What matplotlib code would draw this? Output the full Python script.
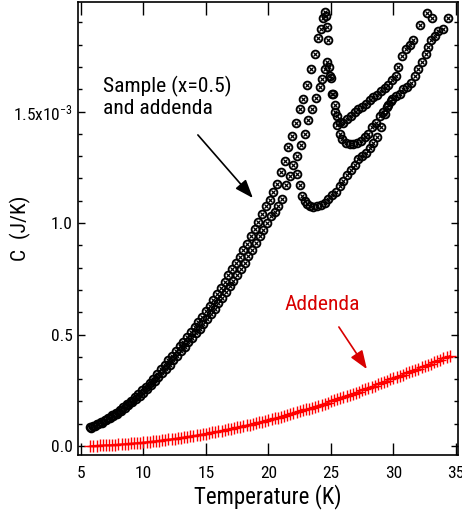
import matplotlib
matplotlib.use("Agg")
import matplotlib.pyplot as plt
from matplotlib import font_manager
from matplotlib.font_manager import FontProperties
from matplotlib.textpath import TextPath
import numpy as np

# ---- Data (C in units of 1e-3 J/K) ----
# Sample run A (rises to sharp peak ~24.5 K)
runA_T = [5.7, 6.0, 6.3, 6.6, 6.9, 7.2, 7.5, 7.8, 8.1, 8.4, 8.7, 9.0, 9.3, 9.6, 9.9,
          10.2, 10.5, 10.8, 11.1, 11.4, 11.7, 12.0, 12.3, 12.6, 12.9, 13.2, 13.5, 13.8,
          14.1, 14.4, 14.7, 15.0, 15.3, 15.6, 15.9, 16.2, 16.5, 16.8, 17.1, 17.4, 17.7,
          18.0, 18.3, 18.6, 18.9, 19.2, 19.5, 19.8, 20.1, 20.4, 20.7, 21.0, 21.3, 21.6,
          21.9, 22.2, 22.5, 22.8, 23.1, 23.4, 23.7, 24.0, 24.2, 24.4, 24.5, 24.6, 24.7, 24.8]
runA_C = [0.085, 0.092, 0.100, 0.108, 0.118, 0.128, 0.140, 0.150, 0.163, 0.175, 0.190,
          0.203, 0.218, 0.232, 0.250, 0.266, 0.282, 0.300, 0.322, 0.345, 0.362, 0.385,
          0.405, 0.425, 0.448, 0.468, 0.490, 0.512, 0.535, 0.555, 0.580, 0.605, 0.630,
          0.655, 0.680, 0.708, 0.735, 0.765, 0.792, 0.820, 0.848, 0.878, 0.908, 0.940,
          0.972, 1.005, 1.040, 1.075, 1.105, 1.140, 1.175, 1.230, 1.280, 1.340, 1.390,
          1.450, 1.510, 1.555, 1.620, 1.690, 1.760, 1.830, 1.870, 1.920, 1.945, 1.930,
          1.880, 1.820]

# Sample run B (peak ~24.7 K, then upper branch to 34 K)
runB_T = [5.8, 6.1, 6.4, 6.7, 7.0, 7.3, 7.6, 7.9, 8.2, 8.5, 8.8, 9.1, 9.4, 9.7, 10.0,
          10.3, 10.6, 10.9, 11.2, 11.5, 11.8, 12.1, 12.4, 12.7, 13.0, 13.3, 13.6, 13.9,
          14.2, 14.5, 14.8, 15.1, 15.4, 15.7, 16.0, 16.3, 16.6, 16.9, 17.2, 17.5, 17.8,
          18.1, 18.4, 18.7, 19.0, 19.3, 19.6, 19.9, 20.2, 20.5, 20.8, 21.1, 21.4, 21.7,
          22.0, 22.3, 22.6, 22.9, 23.2, 23.5, 23.8, 24.1, 24.3, 24.5, 24.7, 24.85, 25.0,
          25.15, 25.3, 25.5, 25.7, 26.0, 26.3, 26.6, 26.9, 27.2, 27.5, 27.8, 28.1, 28.4,
          28.7, 29.0, 29.3, 29.6, 29.9, 30.2, 30.4, 30.7, 31.0, 31.3, 31.6, 32.1, 32.7,
          33.1, 34.4]
runB_C = [0.080, 0.088, 0.097, 0.105, 0.115, 0.125, 0.135, 0.146, 0.158, 0.170, 0.183,
          0.196, 0.210, 0.225, 0.240, 0.256, 0.272, 0.290, 0.308, 0.326, 0.345, 0.365,
          0.385, 0.405, 0.425, 0.445, 0.465, 0.485, 0.505, 0.525, 0.548, 0.570, 0.592,
          0.615, 0.640, 0.664, 0.690, 0.716, 0.742, 0.768, 0.795, 0.823, 0.852, 0.880,
          0.910, 0.940, 0.970, 1.000, 1.030, 1.050, 1.075, 1.110, 1.170, 1.210, 1.260,
          1.300, 1.350, 1.400, 1.460, 1.510, 1.560, 1.610, 1.645, 1.690, 1.720, 1.700,
          1.650, 1.580, 1.530, 1.480, 1.455, 1.450, 1.465, 1.480, 1.500, 1.510, 1.520,
          1.535, 1.550, 1.565, 1.575, 1.590, 1.605, 1.620, 1.640, 1.660, 1.700, 1.750,
          1.780, 1.800, 1.820, 1.890, 1.940, 1.920, 1.920]

# Sample run B2 (lower branch after the 24.7 K peak)
runB2_T = [24.9, 25.1, 25.3, 25.5, 25.7, 25.9, 26.2, 26.5, 26.8, 27.1, 27.4, 27.7,
           28.0, 28.3, 28.6, 28.9, 29.2, 29.5, 29.8]
runB2_C = [1.660, 1.580, 1.500, 1.440, 1.400, 1.375, 1.360, 1.355, 1.355, 1.360, 1.370,
           1.385, 1.400, 1.430, 1.450, 1.480, 1.500, 1.520, 1.545]

# Sample run C (starts at 22.3 K, dip near 23.5 K)
runC_T = [22.3, 22.5, 22.7, 22.9, 23.1, 23.3, 23.6, 23.9, 24.2, 24.5, 24.8, 25.1, 25.4,
          25.7, 26.0, 26.3, 26.6, 26.9, 27.2, 27.5, 27.8, 28.1, 28.4, 28.7, 29.0, 29.3,
          29.6, 29.9, 30.2, 30.5, 30.8, 31.1, 31.4, 31.7, 32.0, 32.3, 32.6, 32.8, 33.0,
          33.3, 33.6, 34.0]
runC_C = [1.220, 1.170, 1.120, 1.100, 1.085, 1.075, 1.070, 1.075, 1.080, 1.090, 1.110,
          1.125, 1.140, 1.165, 1.190, 1.215, 1.240, 1.260, 1.285, 1.300, 1.315, 1.335,
          1.360, 1.385, 1.430, 1.490, 1.530, 1.555, 1.570, 1.580, 1.600, 1.610, 1.630,
          1.660, 1.690, 1.720, 1.760, 1.790, 1.820, 1.840, 1.860, 1.870]

# Addenda
add_T = [5.75, 6.0, 6.25, 6.5, 6.75, 7.0, 7.25, 7.5, 7.75, 8.0, 8.25, 8.5, 8.75, 9.0,
         9.25, 9.5, 9.75, 10.0, 10.25, 10.5, 10.75, 11.0, 11.25, 11.5, 11.75, 12.0,
         12.25, 12.5, 12.75, 13.0, 13.25, 13.5, 13.75, 14.0, 14.25, 14.5, 14.75, 15.0,
         15.25, 15.5, 15.75, 16.0, 16.25, 16.5, 16.75, 17.0, 17.25, 17.5, 17.75, 18.0,
         18.25, 18.5, 18.75, 19.0, 19.25, 19.5, 19.75, 20.0, 20.25, 20.5, 20.75, 21.0,
         21.25, 21.5, 21.75, 22.0, 22.25, 22.5, 22.75, 23.0, 23.25, 23.5, 23.75, 24.0,
         24.25, 24.5, 24.75, 25.0, 25.25, 25.5, 25.75, 26.0, 26.25, 26.5, 26.75, 27.0,
         27.25, 27.5, 27.75, 28.0, 28.25, 28.5, 28.75, 29.0, 29.25, 29.5, 29.75, 30.0,
         30.25, 30.5, 30.75, 31.0, 31.25, 31.5, 31.75, 32.0, 32.25, 32.5, 32.75, 33.0,
         33.25, 33.5, 33.75, 34.0, 34.25, 34.5]
add_C = [0.0011, 0.0016, 0.0022, 0.0028, 0.0034, 0.0042, 0.0049, 0.0058, 0.0066, 0.0076,
         0.0085, 0.0096, 0.0107, 0.0118, 0.0130, 0.0143, 0.0156, 0.0170, 0.0184, 0.0199,
         0.0214, 0.0230, 0.0247, 0.0264, 0.0281, 0.0300, 0.0318, 0.0337, 0.0357, 0.0378,
         0.0398, 0.0420, 0.0442, 0.0464, 0.0487, 0.0511, 0.0535, 0.0560, 0.0585, 0.0611,
         0.0637, 0.0664, 0.0692, 0.0720, 0.0748, 0.0778, 0.0807, 0.0837, 0.0868, 0.0900,
         0.0932, 0.0964, 0.0997, 0.1030, 0.1064, 0.1099, 0.1134, 0.1170, 0.1206, 0.1243,
         0.1280, 0.1318, 0.1357, 0.1396, 0.1435, 0.1476, 0.1516, 0.1557, 0.1599, 0.1642,
         0.1684, 0.1728, 0.1772, 0.1816, 0.1861, 0.1907, 0.1953, 0.2000, 0.2047, 0.2095,
         0.2144, 0.2192, 0.2242, 0.2292, 0.2342, 0.2394, 0.2445, 0.2497, 0.2550, 0.2604,
         0.2657, 0.2712, 0.2767, 0.2822, 0.2878, 0.2935, 0.2992, 0.3050, 0.3100, 0.3152,
         0.3203, 0.3256, 0.3309, 0.3363, 0.3417, 0.3472, 0.3526, 0.3583, 0.3638, 0.3696,
         0.3753, 0.3811, 0.3869, 0.3928, 0.3988, 0.4048]

y_ticks = [0.0, 0.5, 1.0, 1.5]
y_tick_labels = ['0.0', '0.5', '1.0', '1.5x10$^{-3}$']
x_ticks = [5, 10, 15, 20, 25, 30, 35]
sample_text = 'Sample (x=0.5)\nand addenda'
addenda_text = 'Addenda'

# ---- Font: narrow Helvetica-like if available ----
avail = {f.name for f in font_manager.fontManager.ttflist}
chosen = 'Liberation Sans'
for cand in ['Liberation Sans Narrow', 'Arial Narrow', 'Nimbus Sans Narrow', 'Roboto Condensed',
             'Archivo Narrow', 'PT Sans Narrow', 'Open Sans Condensed', 'Fira Sans Condensed',
             'IBM Plex Sans Condensed', 'Sofia Sans Semi Condensed']:
    if cand in avail:
        chosen = cand
        break
plt.rcParams['font.family'] = [chosen, 'DejaVu Sans']
plt.rcParams['mathtext.default'] = 'regular'

# scale font sizes so that "Sample (x=0.5)" spans about the reference width
_tp = TextPath((0, 0), 'Sample (x=0.5)', size=15.5, prop=FontProperties(family=chosen))
_wpx = _tp.get_extents().width * 100 / 72
k = 126.0 / _wpx

# ---- Figure ----
W, H = 462, 518
fig = plt.figure(figsize=(W / 100, H / 100), dpi=100)
ax = fig.add_axes([78 / W, (H - 455) / H, 380 / W, 453 / H])

scale = 1e-3
for T, C in [(runA_T, runA_C), (runB_T, runB_C), (runB2_T, runB2_C), (runC_T, runC_C)]:
    Ts = np.array(T)
    Cs = np.array(C) * scale
    ax.plot(Ts, Cs, linestyle='none', marker='o', ms=5.6, mfc='none', mec='black', mew=1.35)
    ax.plot(Ts, Cs, linestyle='none', marker='x', ms=3.0, mec='black', mew=0.9)

ax.plot(np.array(add_T), np.array(add_C) * scale, color='#ff0000', lw=0.9,
        marker='+', ms=8.5, mew=1.0, mec='#ff0000')

ax.set_xlim(4.77, 35.17)
ax.set_ylim(-0.040e-3, 1.991e-3)

ax.set_xticks(x_ticks)
ax.set_xticklabels([str(v) for v in x_ticks])
ax.set_yticks([v * scale for v in y_ticks])
ax.set_yticklabels(y_tick_labels)
ax.set_yticks([v * 1e-4 for v in range(0, 20)], minor=True)

ax.tick_params(axis='x', which='major', direction='in', top=True, bottom=True,
               length=9, width=1.0, labelsize=12.5 * k, pad=8)
ax.tick_params(axis='y', which='major', direction='in', left=True, right=True,
               length=5, width=1.0, labelsize=12.5 * k, pad=4)
ax.tick_params(axis='y', which='minor', direction='in', left=True, right=True,
               length=3, width=1.0)
for s in ax.spines.values():
    s.set_linewidth(1.2)

ax.set_xlabel('Temperature (K)', fontsize=16.5 * k)
ax.xaxis.set_label_coords(0.5, -(484 - 455) / 453)
ax.set_ylabel('C  (J/K)', fontsize=15.5 * k)
ax.yaxis.set_label_coords(-(78 - 31) / 380, 0.5)

# Annotations
ax.text(6.76, 1.565e-3, sample_text, fontsize=15.5 * k, ha='left',
        va='center', linespacing=1.1, color='black')
ax.annotate('', xy=(18.76, 1.112e-3), xytext=(14.36, 1.395e-3),
            arrowprops=dict(arrowstyle='-|>,head_length=0.8,head_width=0.3',
                            color='black', lw=1.2, mutation_scale=14, shrinkA=0, shrinkB=0))
ax.text(21.3, 0.637e-3, addenda_text, fontsize=15.5 * k, ha='left', va='center', color='#d80000')
ax.annotate('', xy=(27.88, 0.345e-3), xytext=(25.64, 0.534e-3),
            arrowprops=dict(arrowstyle='-|>,head_length=0.8,head_width=0.3',
                            color='#d80000', lw=1.2, mutation_scale=14, shrinkA=0, shrinkB=0))

fig.savefig('out.png', dpi=100)
